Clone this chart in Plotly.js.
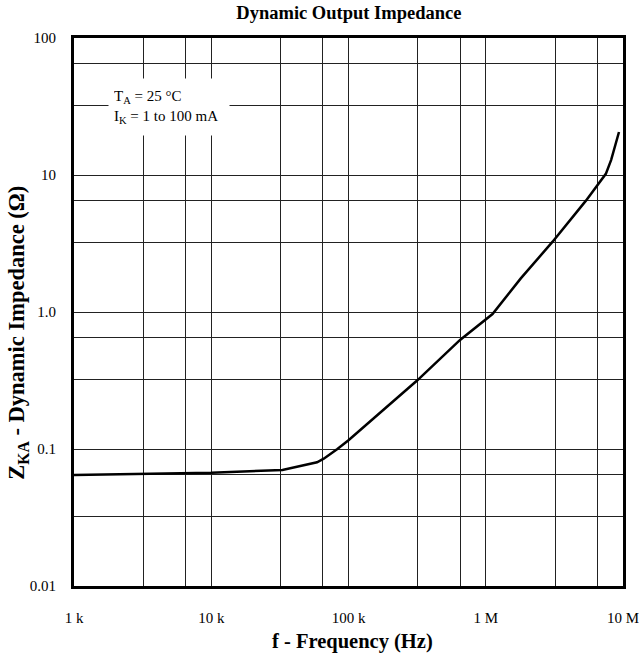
<!DOCTYPE html>
<html>
<head>
<meta charset="utf-8">
<script src="https://cdn.plot.ly/plotly-3.0.1.min.js"></script>
<style>html,body{margin:0;padding:0;background:#fff;}#chart{width:639px;height:656px;}</style>
</head>
<body>
<div id="chart"></div>
<script>
// Data
const frequencyHz = [1e3, 1e4, 3.3e4, 5.9e4, 6.6e4, 8.3e4, 1e5, 3.16e5, 6.5e5, 1.12e6, 1.8e6, 3.07e6, 5.37e6, 7.5e6, 8.2e6, 9.35e6];
const impedanceOhm = [0.0645, 0.067, 0.0703, 0.080, 0.085, 0.10, 0.116, 0.316, 0.625, 0.967, 1.76, 3.26, 6.5, 10.2, 12.9, 20.6];

const xTickVals = [1e3, 1e4, 1e5, 1e6, 1e7];
const xTickText = ['1 k', '10 k', '100 k', '1 M', '10 M'];
const xGridVals = [3.2e3, 6.5e3, 3.2e4, 6.5e4, 3.2e5, 6.5e5, 3.2e6, 6.5e6];
const yTickVals = [0.01, 0.1, 1, 10, 100];
const yTickText = ['0.01', '0.1', '1.0', '10', '100'];
const yGridVals = [0.032, 0.065, 0.32, 0.65, 3.2, 6.5, 32, 65];

const serif = 'Liberation Serif, Times New Roman, serif';

const trace = {
  x: frequencyHz,
  y: impedanceOhm,
  type: 'scatter',
  mode: 'lines',
  line: {color: '#000', width: 2.5},
  hoverinfo: 'skip'
};

const gridStyle = {showgrid: true, gridcolor: '#222', gridwidth: 1};

const layout = {
  width: 639,
  height: 656,
  margin: {l: 74, r: 16, t: 38, b: 70},
  paper_bgcolor: '#fff',
  plot_bgcolor: '#fff',
  showlegend: false,
  font: {family: serif, color: '#000', size: 15},
  title: {
    text: '<b>Dynamic Output Impedance</b>',
    font: {family: serif, size: 18.5, color: '#000'},
    x: 0.546, xanchor: 'center', xref: 'container',
    y: 0.981, yanchor: 'middle', yref: 'container'
  },
  xaxis: Object.assign({
    type: 'log',
    range: [3, 7],
    tickmode: 'array',
    tickvals: xTickVals,
    ticktext: xTickText,
    ticks: '',
    ticklabelstandoff: 16,
    ticklabeloverflow: 'allow',
    minor: Object.assign({tickmode: 'array', tickvals: xGridVals, ticks: ''}, gridStyle),
    showline: true,
    linecolor: '#000',
    linewidth: 3,
    mirror: true,
    zeroline: false,
    tickfont: {family: serif, size: 15, color: '#000'}
  }, gridStyle),
  yaxis: Object.assign({
    type: 'log',
    range: [-2, 2],
    tickmode: 'array',
    tickvals: yTickVals,
    ticktext: yTickText,
    ticks: '',
    ticklabelstandoff: 12,
    ticklabeloverflow: 'allow',
    minor: Object.assign({tickmode: 'array', tickvals: yGridVals, ticks: ''}, gridStyle),
    showline: true,
    linecolor: '#000',
    linewidth: 3,
    mirror: true,
    zeroline: false,
    tickfont: {family: serif, size: 15, color: '#000'}
  }, gridStyle),
  annotations: [
    {
      xref: 'paper', yref: 'paper',
      x: 0.062, y: 0.927,
      xanchor: 'left', yanchor: 'top',
      width: 110, height: 46,
      text: 'T<sub>A</sub> = 25 °C<br>I<sub>K</sub> = 1 to 100 mA',
      align: 'left',
      valign: 'middle',
      showarrow: false,
      bgcolor: '#fff',
      borderpad: 5,
      font: {family: serif, size: 15, color: '#000'}
    },
    {
      xref: 'paper', yref: 'paper',
      x: 0.508, y: -0.102,
      xanchor: 'center', yanchor: 'middle',
      text: '<b>f - Frequency (Hz)</b>',
      showarrow: false,
      font: {family: serif, size: 20.5, color: '#000'}
    },
    {
      xref: 'paper', yref: 'paper',
      x: -0.102, y: 0.462,
      xanchor: 'center', yanchor: 'middle',
      textangle: -90,
      text: '<b>Z<sub>KA</sub> - Dynamic Impedance (Ω)</b>',
      showarrow: false,
      font: {family: serif, size: 22.5, color: '#000'}
    }
  ]
};

Plotly.newPlot('chart', [trace], layout, {displayModeBar: false, staticPlot: true});
</script>
</body>
</html>
